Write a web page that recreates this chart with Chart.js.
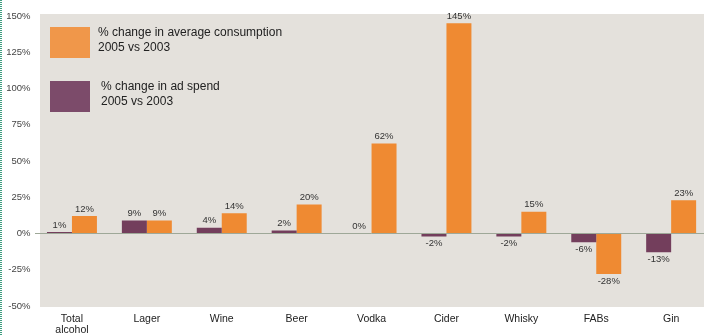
<!DOCTYPE html>
<html>
<head>
<meta charset="utf-8">
<script src="https://cdn.jsdelivr.net/npm/chart.js@4"></script>
<style>
  html, body { margin: 0; padding: 0; background: #fff; overflow: hidden; }
  #wrap { width: 712px; height: 336px; }
</style>
</head>
<body>
<div id="wrap"><canvas id="grafico" width="712" height="336"></canvas></div>
<script>
const categorias = [['Total', 'alcohol'], 'Lager', 'Wine', 'Beer', 'Vodka', 'Cider', 'Whisky', 'FABs', 'Gin'];
const gastoPublicidad = [1, 9, 4, 2, 0, -2, -2, -6, -13];
const consumoMedio = [12, 9, 14, 20, 62, 145, 15, -28, 23];
const ticksEje = [-50, -25, 0, 25, 50, 75, 100, 125, 150];
const etiquetasSerie = [
  ['% change in ad spend', '2005 vs 2003'],
  ['% change in average consumption', '2005 vs 2003']
];
const coloresSerie = ['#733e5c', '#ef8a32'];
const coloresLeyenda = ['#7c4b6a', '#f0974a'];

const FUENTE = '"Liberation Sans", Arial, sans-serif';

// fondo gris del papel + borde punteado
const fondo = {
  id: 'fondo',
  beforeDraw(chart) {
    const ctx = chart.ctx;
    ctx.save();
    ctx.fillStyle = '#e4e1dc';
    ctx.fillRect(40, 14, chart.width - 40, 293);
    ctx.strokeStyle = '#3f9d80';
    ctx.lineWidth = 2;
    ctx.setLineDash([1, 1]);
    ctx.beginPath();
    ctx.moveTo(1, 0);
    ctx.lineTo(1, chart.height);
    ctx.stroke();
    ctx.restore();
  }
};

// etiquetas de valor encima / debajo de cada barra
const valores = {
  id: 'valores',
  afterDatasetsDraw(chart) {
    const ctx = chart.ctx;
    ctx.save();
    ctx.font = '9.5px ' + FUENTE;
    ctx.fillStyle = '#333';
    ctx.textAlign = 'center';
    ctx.textBaseline = 'middle';
    chart.data.datasets.forEach((ds, i) => {
      chart.getDatasetMeta(i).data.forEach((bar, j) => {
        const v = ds.data[j];
        const y = v >= 0 ? bar.y - 7 : bar.y + 7;
        ctx.fillText(v + '%', bar.x, y);
      });
    });
    ctx.restore();
  }
};

// leyenda dentro del área del gráfico (orden: consumo arriba, publicidad abajo)
const leyenda = {
  id: 'leyenda',
  afterDraw(chart) {
    const ctx = chart.ctx;
    ctx.save();
    const filas = [
      { serie: 1, y: 27, tx: 98 },
      { serie: 0, y: 81, tx: 101 }
    ];
    ctx.font = '12px ' + FUENTE;
    ctx.textBaseline = 'middle';
    ctx.textAlign = 'left';
    filas.forEach(f => {
      ctx.fillStyle = coloresLeyenda[f.serie];
      ctx.fillRect(50, f.y, 40, 31);
      ctx.fillStyle = '#222';
      const lineas = chart.data.datasets[f.serie].label;
      lineas.forEach((t, k) => ctx.fillText(t, f.tx, f.y + 6 + k * 15));
    });
    ctx.restore();
  }
};

new Chart(document.getElementById('grafico').getContext('2d'), {
  type: 'bar',
  data: {
    labels: categorias,
    datasets: [
      { label: etiquetasSerie[0], data: gastoPublicidad, backgroundColor: coloresSerie[0] },
      { label: etiquetasSerie[1], data: consumoMedio, backgroundColor: coloresSerie[1] }
    ]
  },
  options: {
    responsive: false,
    animation: false,
    devicePixelRatio: 1,
    layout: { padding: { top: 16, right: 3.4, left: 0, bottom: 0 } },
    datasets: { bar: { categoryPercentage: 0.667, barPercentage: 1 } },
    plugins: {
      legend: { display: false },
      tooltip: { enabled: false }
    },
    scales: {
      x: {
        grid: { display: false, drawTicks: false },
        border: { display: false },
        afterFit: s => { s.height = 30; },
        ticks: {
          maxRotation: 0,
          autoSkip: false,
          padding: 7,
          color: '#222',
          font: { family: FUENTE, size: 10.5, lineHeight: 1.1 }
        }
      },
      y: {
        min: -50,
        max: 150,
        afterBuildTicks: s => { s.ticks = ticksEje.map(v => ({ value: v })); },
        afterFit: s => { s.width = 34.5; },
        border: { display: false },
        grid: {
          drawTicks: false,
          color: c => (c.tick && c.tick.value === 0 ? '#9ea898' : 'transparent'),
          lineWidth: 1
        },
        ticks: {
          padding: 4,
          color: '#444',
          font: { family: FUENTE, size: 9.5 },
          callback: v => v + '%'
        }
      }
    }
  },
  plugins: [fondo, valores, leyenda]
});
</script>
</body>
</html>
